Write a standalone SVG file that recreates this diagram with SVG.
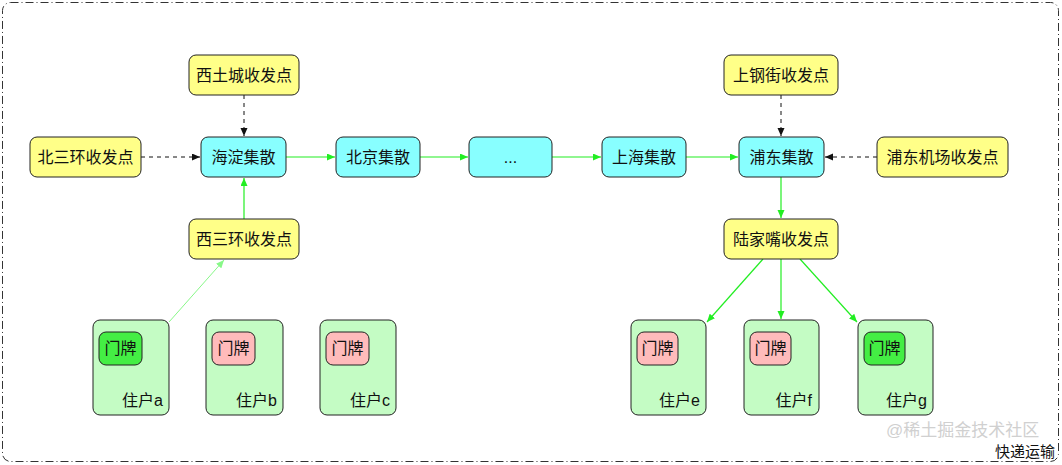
<svg xmlns="http://www.w3.org/2000/svg" width="1062" height="465" viewBox="0 0 1062 465">
<defs>
<style>
.t{font-family:"Liberation Sans","Noto Sans CJK SC",sans-serif;font-size:16px;fill:#111;}
.c{text-anchor:middle;dominant-baseline:central;}
.n{stroke:#222;stroke-width:1;}
.y{fill:#ffff88;}
.b{fill:#88ffff;}
.h{fill:#c4fcc4;}
.p{fill:#ffbbbb;}
.g{fill:#44ee44;}
.dash{stroke:#111;stroke-width:1;stroke-dasharray:4,4;fill:none;}
.grn{stroke:#22ee22;stroke-width:1.2;fill:none;}
.lgr{stroke:#88f888;stroke-width:1;fill:none;}
</style>
<marker id="ak" markerUnits="userSpaceOnUse" markerWidth="9" markerHeight="8" refX="8" refY="3.5" orient="auto"><path d="M0,0 L8,3.5 L0,7 z" fill="#111"/></marker>
<marker id="ag" markerUnits="userSpaceOnUse" markerWidth="9" markerHeight="8" refX="8" refY="3.5" orient="auto"><path d="M0,0 L8,3.5 L0,7 z" fill="#22ee22"/></marker>
<marker id="al" markerUnits="userSpaceOnUse" markerWidth="9" markerHeight="8" refX="8" refY="3.5" orient="auto"><path d="M0,0 L8,3.5 L0,7 z" fill="#88f888"/></marker>
</defs>
<rect width="1062" height="465" fill="#fff"/>
<rect id="frame" x="2.5" y="2.5" width="1056" height="459" rx="8" fill="none" stroke="#333" stroke-width="1" stroke-dasharray="8,3,1,3"/>

<g id="connectors">
<line class="dash" x1="244" y1="95" x2="244" y2="136" marker-end="url(#ak)"/>
<line class="dash" x1="141" y1="157" x2="200" y2="157" marker-end="url(#ak)"/>
<line class="grn" x1="286" y1="157" x2="335" y2="157" marker-end="url(#ag)"/>
<line class="grn" x1="420" y1="157" x2="468" y2="157" marker-end="url(#ag)"/>
<line class="grn" x1="552" y1="157" x2="601" y2="157" marker-end="url(#ag)"/>
<line class="grn" x1="686" y1="157" x2="738" y2="157" marker-end="url(#ag)"/>
<line class="dash" x1="781" y1="95" x2="781" y2="136" marker-end="url(#ak)"/>
<line class="dash" x1="877" y1="157" x2="825" y2="157" marker-end="url(#ak)"/>
<line class="grn" x1="244" y1="219" x2="244" y2="178" marker-end="url(#ag)"/>
<line class="lgr" x1="169" y1="322" x2="224" y2="260" marker-end="url(#al)"/>
<line class="grn" x1="781" y1="177" x2="781" y2="218" marker-end="url(#ag)"/>
<line class="grn" x1="763" y1="259" x2="707" y2="322" marker-end="url(#ag)"/>
<line class="grn" x1="781" y1="259" x2="781" y2="319" marker-end="url(#ag)"/>
<line class="grn" x1="800" y1="259" x2="857" y2="322" marker-end="url(#ag)"/>
</g>

<g id="xituchengs"><rect class="n y" x="189" y="55" width="110" height="40" rx="7"/><text class="t c" x="244" y="75">西土城收发点</text></g>
<g id="beisanhuan"><rect class="n y" x="30" y="137" width="111" height="40" rx="7"/><text class="t c" x="85.5" y="157">北三环收发点</text></g>
<g id="haidian"><rect class="n b" x="201" y="137" width="85" height="40" rx="7"/><text class="t c" x="243.5" y="157">海淀集散</text></g>
<g id="beijing"><rect class="n b" x="336" y="137" width="84" height="40" rx="7"/><text class="t c" x="378" y="157">北京集散</text></g>
<g id="dots"><rect class="n b" x="469" y="137" width="83" height="40" rx="7"/><text class="t c" x="510.5" y="157">...</text></g>
<g id="shanghai"><rect class="n b" x="602" y="137" width="84" height="40" rx="7"/><text class="t c" x="644" y="157">上海集散</text></g>
<g id="pudong"><rect class="n b" x="739" y="137" width="85" height="40" rx="7"/><text class="t c" x="781.5" y="157">浦东集散</text></g>
<g id="shanggangjie"><rect class="n y" x="724" y="55" width="114" height="40" rx="7"/><text class="t c" x="781" y="75">上钢街收发点</text></g>
<g id="pudongjichang"><rect class="n y" x="877" y="137" width="131" height="40" rx="7"/><text class="t c" x="942.5" y="157">浦东机场收发点</text></g>
<g id="xisanhuan"><rect class="n y" x="189" y="219" width="110" height="40" rx="7"/><text class="t c" x="244" y="239">西三环收发点</text></g>
<g id="lujiazui"><rect class="n y" x="724" y="219" width="114" height="40" rx="7"/><text class="t c" x="781" y="239">陆家嘴收发点</text></g>

<g id="hu-a"><rect class="n h" x="93" y="320" width="76" height="95" rx="7"/><rect class="n g" x="99" y="332" width="43" height="33" rx="7"/><text class="t c" x="120.5" y="348.5">门牌</text><text class="t" x="163" y="406" text-anchor="end">住户a</text></g>
<g id="hu-b"><rect class="n h" x="206" y="320" width="77" height="95" rx="7"/><rect class="n p" x="212" y="332" width="43" height="33" rx="7"/><text class="t c" x="233.5" y="348.5">门牌</text><text class="t" x="277" y="406" text-anchor="end">住户b</text></g>
<g id="hu-c"><rect class="n h" x="320" y="320" width="76" height="95" rx="7"/><rect class="n p" x="326" y="332" width="43" height="33" rx="7"/><text class="t c" x="347.5" y="348.5">门牌</text><text class="t" x="390" y="406" text-anchor="end">住户c</text></g>
<g id="hu-e"><rect class="n h" x="631" y="320" width="75" height="95" rx="7"/><rect class="n p" x="637" y="332" width="41" height="33" rx="7"/><text class="t c" x="657.5" y="348.5">门牌</text><text class="t" x="700" y="406" text-anchor="end">住户e</text></g>
<g id="hu-f"><rect class="n h" x="744" y="320" width="75" height="95" rx="7"/><rect class="n p" x="750" y="332" width="41" height="33" rx="7"/><text class="t c" x="770.5" y="348.5">门牌</text><text class="t" x="812" y="406" text-anchor="end">住户f</text></g>
<g id="hu-g"><rect class="n h" x="858" y="320" width="75" height="95" rx="7"/><rect class="n g" x="864" y="332" width="41" height="33" rx="7"/><text class="t c" x="884.5" y="348.5">门牌</text><text class="t" x="927" y="406" text-anchor="end">住户g</text></g>

<text class="t" x="886" y="436" style="font-size:17px;fill:#d0d0d0">@稀土掘金技术社区</text>
<text class="t" x="1055" y="457" text-anchor="end" style="font-size:15px">快递运输</text>
</svg>
